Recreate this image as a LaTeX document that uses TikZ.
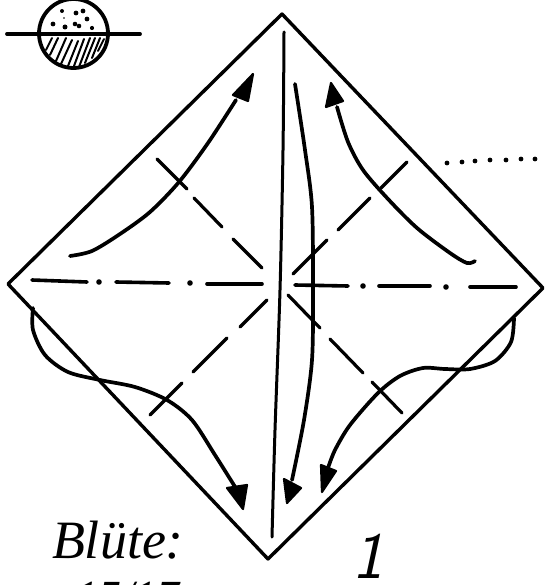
\documentclass[tikz,border=0pt]{standalone}
\usepackage{fontspec}
\newfontfamily\handfont{Liberation Serif}
\tikzset{
  x=1pt,y=-1pt,
  ink/.style={line width=#1,line cap=round,line join=round,black},
  ink/.default=3.2,
  fold/.style={ink=3.2},
  curve/.style={ink=3.7},
  head/.style={fill=black,draw=black,line width=2.2pt,line join=round},
  hatch/.style={ink=2},
  grain/.style={fill=black,draw=none},
  handtext/.style={inner sep=0pt,outer sep=0pt,anchor=base west,text=black}
}
\begin{document}
\begin{tikzpicture}
\useasboundingbox (0,0) rectangle (549,585);
\clip (0,0) rectangle (549,585);
% globe symbol
\draw[ink=3.8] (73.5,33.5) circle (34.5);
\draw[ink=3.8] (7,34) -- (140,34);
\foreach \a/\b/\c/\d in {46/50/52/38, 50/55/58/38, 56/61/66/38, 61/64/72/40, 68/66/78/41, 74/66/84/39, 79/67/90/38, 85/63/95/38, 92/58/100/38, 98/51/104/39}
  \draw[hatch] (\a,\b) -- (\c,\d);
\foreach \a/\b/\r in {62/11/2, 76/13/2.4, 83/11/2.4, 87/19/2.4, 53/24/2.4, 65/27/2.5, 75/24/2.3, 79/26/2.3, 92/28/2.1, 64/18/.8}
  \fill[grain] (\a,\b) circle (\r);
% square sheet
\draw[ink=3.4] (282,14) -- (543,288) -- (268,559) -- (8,284) -- cycle;
% vertical fold
\draw[ink=3] plot[smooth] coordinates {(284,32) (283,150) (280,290) (275,430) (272,537)};
% dashed diagonals
\foreach \a/\b/\c/\d in {293/274/327/240, 338/230/370/198, 381/188/407/162,
  157/159/187/189, 194/198/222/227, 233/239/262/268,
  288/295/320/328, 330/339/363/373, 372/382/402/413,
  267/300/240/327, 227/338/193/372, 182/383/150/415}
  \draw[fold] (\a,\b) -- (\c,\d);
% dash-dot horizontal
\foreach \a/\b/\c/\d in {32/280/87/282, 116/282/169/283, 207/284/262/284,
  295/285/348/286, 379/286/430/286, 470/287/516/287}
  \draw[ink=3.6] (\a,\b) -- (\c,\d);
\foreach \a/\b in {99/282, 190/283, 363/286, 446/287}
  \fill[grain] (\a,\b) circle (2.8);
% dotted label line
\foreach \a/\b in {447/163, 462/162, 475/161, 490/160, 506/160, 521/159, 535/159}
  \fill[grain] (\a,\b) circle (2.4);
% arrows
\draw[curve] plot[smooth] coordinates {(70,256) (92,251) (120,234) (150,212) (179,182) (208,143) (236,100)};
\fill[head] (253,74) -- (233,95) -- (248,101) -- cycle;
\draw[curve] plot[smooth] coordinates {(337,107) (348,142) (363,170) (388,199) (417,228) (450,253) (467,263) (475,261)};
\fill[head] (331,83) -- (326,107) -- (343,101) -- cycle;
\draw[curve] plot[smooth] coordinates {(295,84) (305,150) (312,207) (313,290) (312,360) (304,420) (292,480)};
\fill[head] (287,503) -- (284,479) -- (301,488) -- cycle;
\draw[curve] plot[smooth] coordinates {(33,308) (33,330) (45,355) (68,372) (100,380) (135,387) (167,400) (192,420) (215,455) (237,490)};
\fill[head] (243,509) -- (227,488) -- (247,485) -- cycle;
\draw[curve] plot[smooth] coordinates {(514,318) (511,342) (495,361) (470,369) (445,369) (423,368) (400,376) (378,393) (350,425) (335,450) (328,468)};
\fill[head] (322,492) -- (321,465) -- (336,471) -- cycle;
% handwriting
\node[handtext] (bluete) at (52,558) {\handfont\itshape\fontsize{54}{60}\selectfont Blüte:};
\node[handtext] (dims) at (75,612) {\handfont\itshape\fontsize{46}{50}\selectfont 15/17};
\node[handtext] (page) at (352,578) {\sffamily\itshape\fontsize{66}{70}\selectfont 1};
\end{tikzpicture}
\end{document}
